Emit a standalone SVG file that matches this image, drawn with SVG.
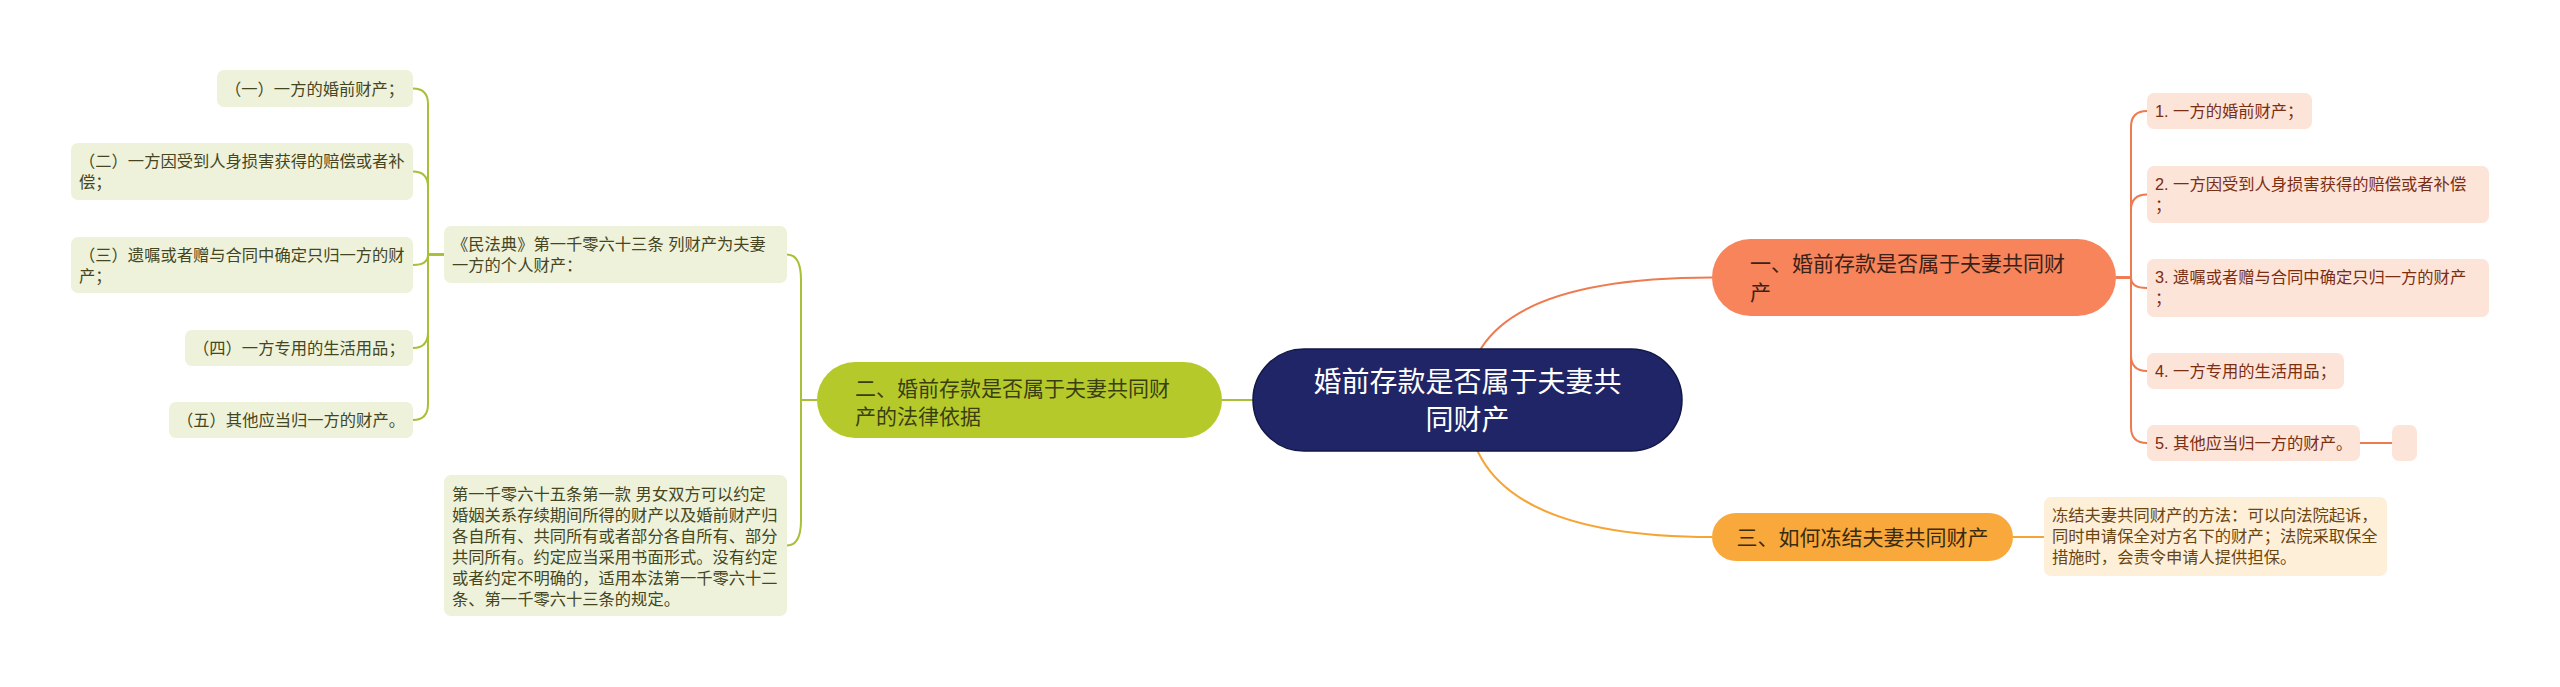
<svg xmlns="http://www.w3.org/2000/svg" width="2560" height="687" viewBox="0 0 2560 687">
<style>
text{font-family:"Liberation Sans","Noto Sans CJK SC",sans-serif}
.leaf{font-size:16.3px}
.l1{font-size:21px}
.root{font-size:28px;fill:#ffffff;text-anchor:middle}
.gbox{fill:#eef2da}
.gtxt{fill:#45461f}
.pbox{fill:#fde4d9}
.ptxt{fill:#7a2e12}
.cbox{fill:#fdefd8}
.ctxt{fill:#6b4510}
.gline{fill:none;stroke:#a6c137;stroke-width:2}
.oline{fill:none;stroke:#ee7a50;stroke-width:2}
.yline{fill:none;stroke:#f5a535;stroke-width:2}
</style>
<rect width="2560" height="687" fill="#ffffff"/>
<g id="connectors">
<path class="gline" d="M1222 400 H1253"/>
<path class="oline" d="M1467 400 Q1467 277.5 1712 277.5"/>
<path class="yline" d="M1467 400 Q1467 537 1712 537"/>
<path class="gline" d="M817 400 H801 V280 Q801 254.5 787 254.5"/>
<path class="gline" d="M817 400 H801 V520 Q801 545.5 787 545.5"/>
<path class="gline" d="M444 254.5 H428 V104 Q428 88.5 413 88.5"/>
<path class="gline" d="M444 254.5 H428 V187 Q428 171.5 413 171.5"/>
<path class="gline" d="M444 254.5 H428 Q428 265 413 265"/>
<path class="gline" d="M444 254.5 H428 V332 Q428 348 413 348"/>
<path class="gline" d="M444 254.5 H428 V404 Q428 420 413 420"/>
<path class="oline" d="M2116 277.5 H2131 V127 Q2131 111 2147 111"/>
<path class="oline" d="M2116 277.5 H2131 V210 Q2131 194.5 2147 194.5"/>
<path class="oline" d="M2116 277.5 H2131 Q2131 288 2147 288"/>
<path class="oline" d="M2116 277.5 H2131 V355 Q2131 371 2147 371"/>
<path class="oline" d="M2116 277.5 H2131 V427 Q2131 443 2147 443"/>
<path class="oline" d="M2360 443 H2392"/>
<path class="yline" d="M2013 537 H2044"/>
</g>
<g id="root">
<rect x="1253" y="349" width="429" height="102" rx="51" fill="#1f2566" stroke="#121845" stroke-width="1.5"/>
<text class="root"><tspan x="1467.5" y="392">婚前存款是否属于夫妻共</tspan><tspan x="1467.5" y="430">同财产</tspan></text>
</g>
<g id="n1">
<rect x="1712" y="239" width="404" height="77" rx="38.5" fill="#f7845a"/>
<text class="l1" fill="#3a2218"><tspan x="1750" y="271">一、婚前存款是否属于夫妻共同财</tspan><tspan x="1750" y="299.5">产</tspan></text>
</g>
<g id="n2">
<rect x="817" y="362" width="405" height="76" rx="38" fill="#b5ca2a"/>
<text class="l1" fill="#3a3f12"><tspan x="855" y="396">二、婚前存款是否属于夫妻共同财</tspan><tspan x="855" y="423.5">产的法律依据</tspan></text>
</g>
<g id="n3">
<rect x="1712" y="513" width="301" height="48" rx="24" fill="#f9a93b"/>
<text class="l1" fill="#3a2a10" text-anchor="middle" x="1862.5" y="545">三、如何冻结夫妻共同财产</text>
</g>
<g id="n2a">
<rect class="gbox" x="444" y="226" width="343" height="57" rx="7"/>
<text class="leaf gtxt"><tspan x="452" y="250">《民法典》第一千零六十三条 列财产为夫妻</tspan><tspan x="452" y="271">一方的个人财产：</tspan></text>
</g>
<g id="n2b">
<rect class="gbox" x="444" y="475" width="343" height="141" rx="7"/>
<text class="leaf gtxt"><tspan x="452" y="500">第一千零六十五条第一款 男女双方可以约定</tspan><tspan x="452" y="521">婚姻关系存续期间所得的财产以及婚前财产归</tspan><tspan x="452" y="542">各自所有、共同所有或者部分各自所有、部分</tspan><tspan x="452" y="563">共同所有。约定应当采用书面形式。没有约定</tspan><tspan x="452" y="584">或者约定不明确的，适用本法第一千零六十二</tspan><tspan x="452" y="605">条、第一千零六十三条的规定。</tspan></text>
</g>
<g id="g1">
<rect class="gbox" x="217" y="70" width="196" height="37" rx="7"/>
<text class="leaf gtxt" x="225" y="94.5">（一）一方的婚前财产；</text>
</g>
<g id="g2">
<rect class="gbox" x="71" y="143" width="342" height="57" rx="7"/>
<text class="leaf gtxt"><tspan x="79" y="167">（二）一方因受到人身损害获得的赔偿或者补</tspan><tspan x="79" y="188">偿；</tspan></text>
</g>
<g id="g3">
<rect class="gbox" x="71" y="237" width="342" height="56" rx="7"/>
<text class="leaf gtxt"><tspan x="79" y="261">（三）遗嘱或者赠与合同中确定只归一方的财</tspan><tspan x="79" y="282">产；</tspan></text>
</g>
<g id="g4">
<rect class="gbox" x="185" y="330" width="228" height="36" rx="7"/>
<text class="leaf gtxt" x="193" y="354">（四）一方专用的生活用品；</text>
</g>
<g id="g5">
<rect class="gbox" x="169" y="402" width="244" height="36" rx="7"/>
<text class="leaf gtxt" x="177" y="426">（五）其他应当归一方的财产。</text>
</g>
<g id="p1">
<rect class="pbox" x="2147" y="93" width="165" height="36" rx="7"/>
<text class="leaf ptxt" x="2155" y="117">1. 一方的婚前财产；</text>
</g>
<g id="p2">
<rect class="pbox" x="2147" y="166" width="342" height="57" rx="7"/>
<text class="leaf ptxt"><tspan x="2155" y="190">2. 一方因受到人身损害获得的赔偿或者补偿</tspan><tspan x="2155" y="211">；</tspan></text>
</g>
<g id="p3">
<rect class="pbox" x="2147" y="259" width="342" height="58" rx="7"/>
<text class="leaf ptxt"><tspan x="2155" y="283">3. 遗嘱或者赠与合同中确定只归一方的财产</tspan><tspan x="2155" y="304">；</tspan></text>
</g>
<g id="p4">
<rect class="pbox" x="2147" y="353" width="197" height="36" rx="7"/>
<text class="leaf ptxt" x="2155" y="377">4. 一方专用的生活用品；</text>
</g>
<g id="p5">
<rect class="pbox" x="2147" y="425" width="213" height="36" rx="7"/>
<text class="leaf ptxt" x="2155" y="449">5. 其他应当归一方的财产。</text>
</g>
<g id="p5a">
<rect class="pbox" x="2392" y="425" width="25" height="36" rx="7"/>
</g>
<g id="c1">
<rect class="cbox" x="2044" y="497" width="343" height="79" rx="7"/>
<text class="leaf ctxt"><tspan x="2052" y="521">冻结夫妻共同财产的方法：可以向法院起诉，</tspan><tspan x="2052" y="542">同时申请保全对方名下的财产；法院采取保全</tspan><tspan x="2052" y="563">措施时，会责令申请人提供担保。</tspan></text>
</g>
</svg>
